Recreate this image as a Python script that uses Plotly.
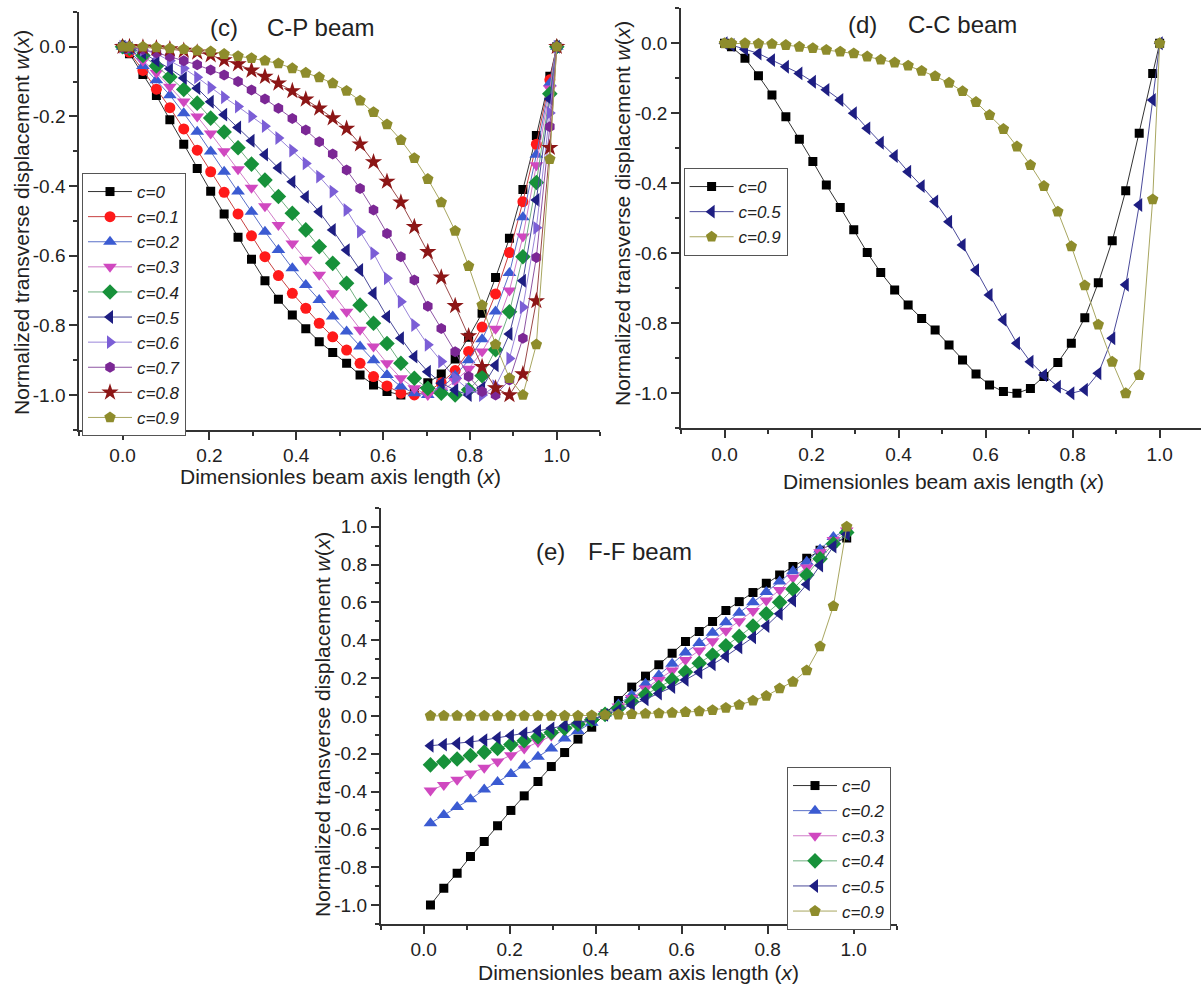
import plotly.graph_objects as go

# ---------------- data ----------------
x_cp = [0, 0.016, 0.047, 0.078, 0.109, 0.141, 0.172, 0.203, 0.234, 0.266, 0.297, 0.328,
        0.359, 0.391, 0.422, 0.453, 0.484, 0.516, 0.547, 0.578, 0.609, 0.641, 0.672, 0.703,
        0.734, 0.766, 0.797, 0.828, 0.859, 0.891, 0.922, 0.953, 0.984, 1.0]

cp_c0 = [0, -0.02, -0.08, -0.14, -0.21, -0.28, -0.35, -0.415, -0.48, -0.547, -0.61, -0.672,
         -0.725, -0.77, -0.81, -0.847, -0.878, -0.909, -0.943, -0.971, -0.99, -1.0, -0.99, -0.965,
         -0.94, -0.897, -0.834, -0.765, -0.663, -0.55, -0.41, -0.255, -0.085, 0]
cp_c1 = [0, -0.016, -0.068, -0.122, -0.175, -0.236, -0.297, -0.359, -0.418, -0.48, -0.543, -0.603,
         -0.657, -0.708, -0.751, -0.794, -0.833, -0.871, -0.909, -0.947, -0.974, -0.995, -1.0, -0.99,
         -0.965, -0.93, -0.875, -0.805, -0.71, -0.591, -0.445, -0.28, -0.095, 0]
cp_c2 = [0, -0.012, -0.055, -0.096, -0.139, -0.191, -0.244, -0.301, -0.359, -0.416, -0.474, -0.531,
         -0.584, -0.636, -0.684, -0.727, -0.775, -0.818, -0.861, -0.9, -0.943, -0.976, -0.995, -1.0,
         -0.98, -0.945, -0.9, -0.84, -0.76, -0.65, -0.49, -0.31, -0.105, 0]
cp_c3 = [0, -0.008, -0.04, -0.075, -0.115, -0.157, -0.2, -0.249, -0.3, -0.352, -0.405, -0.458,
         -0.512, -0.565, -0.612, -0.655, -0.708, -0.761, -0.813, -0.861, -0.909, -0.952, -0.981, -1.0,
         -0.99, -0.96, -0.925, -0.875, -0.81, -0.70, -0.545, -0.34, -0.12, 0]
cp_c4 = [0, -0.005, -0.025, -0.055, -0.087, -0.123, -0.162, -0.205, -0.245, -0.29, -0.337, -0.383,
         -0.43, -0.478, -0.526, -0.574, -0.622, -0.679, -0.742, -0.794, -0.852, -0.909, -0.952, -0.981,
         -0.995, -1.0, -0.985, -0.945, -0.87, -0.761, -0.603, -0.39, -0.135, 0]
cp_c5 = [0, -0.004, -0.018, -0.04, -0.063, -0.09, -0.119, -0.158, -0.195, -0.232, -0.27, -0.31,
         -0.348, -0.388, -0.431, -0.474, -0.526, -0.584, -0.641, -0.708, -0.775, -0.837, -0.89, -0.933,
         -0.966, -0.986, -1.0, -0.98, -0.915, -0.825, -0.672, -0.44, -0.15, 0]
cp_c6 = [0, -0.003, -0.009, -0.02, -0.04, -0.062, -0.088, -0.117, -0.145, -0.172, -0.2, -0.228,
         -0.262, -0.298, -0.335, -0.373, -0.416, -0.469, -0.531, -0.593, -0.665, -0.732, -0.799, -0.856,
         -0.904, -0.952, -0.985, -1.0, -0.975, -0.895, -0.748, -0.52, -0.19, 0]
cp_c7 = [0, -0.002, -0.008, -0.017, -0.028, -0.04, -0.052, -0.067, -0.081, -0.1, -0.124, -0.15,
         -0.177, -0.206, -0.239, -0.273, -0.308, -0.354, -0.407, -0.469, -0.536, -0.603, -0.67, -0.745,
         -0.809, -0.876, -0.947, -0.99, -1.0, -0.957, -0.837, -0.605, -0.23, 0]
cp_c8 = [0, 0, -0.002, -0.004, -0.007, -0.011, -0.016, -0.024, -0.038, -0.05, -0.068, -0.086,
         -0.105, -0.127, -0.151, -0.177, -0.205, -0.235, -0.28, -0.331, -0.387, -0.447, -0.517, -0.589,
         -0.662, -0.744, -0.831, -0.919, -0.98, -1.0, -0.94, -0.73, -0.29, 0]
cp_c9 = [0, 0, 0, -0.002, -0.005, -0.007, -0.011, -0.014, -0.021, -0.027, -0.033, -0.04,
         -0.048, -0.062, -0.075, -0.088, -0.105, -0.127, -0.155, -0.188, -0.223, -0.268, -0.32, -0.38,
         -0.447, -0.529, -0.63, -0.742, -0.855, -0.952, -1.0, -0.855, -0.323, 0]

x_cc = x_cp
cc_c0 = [0, -0.01, -0.043, -0.093, -0.148, -0.21, -0.274, -0.338, -0.405, -0.469, -0.533, -0.598,
         -0.655, -0.705, -0.748, -0.786, -0.819, -0.862, -0.905, -0.945, -0.976, -0.995, -1.0, -0.986,
         -0.952, -0.912, -0.857, -0.784, -0.684, -0.564, -0.421, -0.257, -0.086, 0]
cc_c5 = [0, -0.005, -0.017, -0.029, -0.048, -0.067, -0.086, -0.11, -0.133, -0.162, -0.2, -0.243,
         -0.284, -0.322, -0.367, -0.408, -0.452, -0.51, -0.576, -0.648, -0.719, -0.79, -0.857, -0.91,
         -0.948, -0.981, -1.0, -0.99, -0.943, -0.843, -0.69, -0.462, -0.162, 0]
cc_c9 = [0, 0, 0, -0.001, -0.002, -0.005, -0.01, -0.014, -0.019, -0.024, -0.029, -0.038,
         -0.047, -0.055, -0.064, -0.079, -0.094, -0.113, -0.137, -0.168, -0.205, -0.245, -0.295, -0.348,
         -0.408, -0.481, -0.58, -0.692, -0.804, -0.91, -1.0, -0.948, -0.446, 0]

x_ff = [0.016, 0.047, 0.078, 0.109, 0.141, 0.172, 0.203, 0.234, 0.266, 0.297, 0.328, 0.359,
        0.391, 0.422, 0.453, 0.484, 0.516, 0.547, 0.578, 0.609, 0.641, 0.672, 0.703, 0.734,
        0.766, 0.797, 0.828, 0.859, 0.891, 0.922, 0.953, 0.984]
ff_c0 = [-1.0, -0.911, -0.832, -0.744, -0.664, -0.581, -0.5, -0.423, -0.347, -0.268, -0.194, -0.123,
         -0.06, 0.01, 0.081, 0.152, 0.21, 0.27, 0.331, 0.393, 0.446, 0.499, 0.557, 0.604,
         0.652, 0.701, 0.745, 0.789, 0.833, 0.875, 0.915, 0.94]
ff_c2 = [-0.568, -0.524, -0.482, -0.441, -0.39, -0.35, -0.308, -0.262, -0.216, -0.172, -0.12, -0.08,
         -0.037, 0.012, 0.06, 0.11, 0.17, 0.215, 0.275, 0.335, 0.385, 0.44, 0.495, 0.545,
         0.6, 0.655, 0.71, 0.765, 0.815, 0.88, 0.945, 0.985]
ff_c3 = [-0.395, -0.366, -0.338, -0.305, -0.274, -0.242, -0.208, -0.172, -0.138, -0.105, -0.075, -0.048,
         -0.022, 0.01, 0.05, 0.095, 0.145, 0.19, 0.24, 0.295, 0.345, 0.395, 0.45, 0.5,
         0.555, 0.61, 0.665, 0.73, 0.785, 0.865, 0.93, 0.98]
ff_c4 = [-0.259, -0.243, -0.228, -0.21, -0.192, -0.172, -0.152, -0.132, -0.11, -0.088, -0.066, -0.044,
         -0.02, 0.008, 0.04, 0.075, 0.112, 0.15, 0.19, 0.232, 0.278, 0.322, 0.37, 0.42,
         0.475, 0.54, 0.6, 0.67, 0.745, 0.83, 0.91, 0.97]
ff_c5 = [-0.158, -0.152, -0.146, -0.138, -0.128, -0.117, -0.105, -0.093, -0.08, -0.066, -0.052, -0.037,
         -0.02, 0.005, 0.03, 0.058, 0.087, 0.118, 0.152, 0.19, 0.23, 0.272, 0.315, 0.362,
         0.415, 0.475, 0.54, 0.61, 0.695, 0.795, 0.895, 0.96]
ff_c9 = [0, 0, 0, 0, 0, 0, 0, 0, 0, 0, 0, 0,
         0.002, 0.005, 0.007, 0.009, 0.011, 0.013, 0.016, 0.02, 0.024, 0.03, 0.042, 0.058,
         0.08, 0.105, 0.145, 0.18, 0.24, 0.367, 0.58, 1.0]

x_tick_vals = [0.0, 0.2, 0.4, 0.6, 0.8, 1.0]
x_tick_text = ["0.0", "0.2", "0.4", "0.6", "0.8", "1.0"]
yneg_tick_vals = [0.0, -0.2, -0.4, -0.6, -0.8, -1.0]
yneg_tick_text = ["0.0", "-0.2", "-0.4", "-0.6", "-0.8", "-1.0"]
yff_tick_vals = [-1.0, -0.8, -0.6, -0.4, -0.2, 0.0, 0.2, 0.4, 0.6, 0.8, 1.0]
yff_tick_text = ["-1.0", "-0.8", "-0.6", "-0.4", "-0.2", "0.0", "0.2", "0.4", "0.6", "0.8", "1.0"]

# ---------------- styles ----------------
STYLE = {
    "c=0":   ("#000000", "#333333", "square", 9),
    "c=0.1": ("#FF1A1A", "#C84040", "circle", 11),
    "c=0.2": ("#3B5BD2", "#5A70C8", "triangle-up", 12),
    "c=0.3": ("#D048C0", "#D07CC8", "triangle-down", 12),
    "c=0.4": ("#17913A", "#70B080", "diamond", 12),
    "c=0.5": ("#1E1E82", "#4A4A9A", "triangle-left", 12),
    "c=0.6": ("#7B5ED6", "#9A86DA", "triangle-right", 12),
    "c=0.7": ("#7B2795", "#8E55A4", "hexagon", 11),
    "c=0.8": ("#8C1616", "#9A4848", "star", 13),
    "c=0.9": ("#8E8C2C", "#A8A660", "pentagon", 12),
}
FONT = "Liberation Sans, Arial, sans-serif"
W, H = 1201, 992

fig = go.Figure()


def add(x, y, name, xa, ya, leg):
    mc, lc, sym, sz = STYLE[name]
    fig.add_trace(go.Scatter(
        x=x, y=y, mode="lines+markers", name="<i>" + name + "</i>",
        line=dict(color=lc, width=1),
        marker=dict(symbol=sym, size=sz, color=mc, line=dict(width=0)),
        xaxis=xa, yaxis=ya, legend=leg))


cp = [("c=0", cp_c0), ("c=0.1", cp_c1), ("c=0.2", cp_c2), ("c=0.3", cp_c3), ("c=0.4", cp_c4),
      ("c=0.5", cp_c5), ("c=0.6", cp_c6), ("c=0.7", cp_c7), ("c=0.8", cp_c8), ("c=0.9", cp_c9)]
for n, y in cp:
    add(x_cp, y, n, "x", "y", "legend")
for n, y in [("c=0", cc_c0), ("c=0.5", cc_c5), ("c=0.9", cc_c9)]:
    add(x_cc, y, n, "x2", "y2", "legend2")
for n, y in [("c=0", ff_c0), ("c=0.2", ff_c2), ("c=0.3", ff_c3), ("c=0.4", ff_c4),
             ("c=0.5", ff_c5), ("c=0.9", ff_c9)]:
    add(x_ff, y, n, "x3", "y3", "legend3")


def px(X):
    return X / W


def py(Y):
    return 1 - Y / H


axis_common = dict(
    showline=True, linecolor="#333333", linewidth=1.5, mirror=False,
    ticks="outside", ticklen=8, tickwidth=1.5, tickcolor="#333333",
    showgrid=False, zeroline=False, tickmode="array",
    tickfont=dict(family=FONT, size=19, color="#222222"),
    minor=dict(ticks="outside", ticklen=4, tickwidth=1.5, tickcolor="#333333",
               tickmode="linear", tick0=0, dtick=0.1, showgrid=False),
)

fig.update_layout(
    width=W, height=H, margin=dict(l=0, r=0, t=0, b=0),
    paper_bgcolor="white", plot_bgcolor="white",
    font=dict(family=FONT, color="#222222"),
    xaxis=dict(axis_common, domain=[px(79.1), px(600.2)], range=[-0.1, 1.1], anchor="y",
               tickvals=x_tick_vals, ticktext=x_tick_text),
    yaxis=dict(axis_common, domain=[py(429.8), py(11.9)], range=[-1.1, 0.1], anchor="x",
               tickvals=yneg_tick_vals, ticktext=yneg_tick_text),
    xaxis2=dict(axis_common, domain=[px(681), 1.0], range=[-0.1, 1.095], anchor="y2",
                tickvals=x_tick_vals, ticktext=x_tick_text),
    yaxis2=dict(axis_common, domain=[py(428.3), py(8.3)], range=[-1.1, 0.1], anchor="x2",
                tickvals=yneg_tick_vals, ticktext=yneg_tick_text),
    xaxis3=dict(axis_common, domain=[px(380.6), px(896.6)], range=[-0.1, 1.1], anchor="y3",
                tickvals=x_tick_vals, ticktext=x_tick_text),
    yaxis3=dict(axis_common, domain=[py(923.9), py(507.8)], range=[-1.1, 1.1], anchor="x3",
                tickvals=yff_tick_vals, ticktext=yff_tick_text),
)

leg_common = dict(bgcolor="white", bordercolor="#555555", borderwidth=1,
                  font=dict(family=FONT, size=17, color="#222222"),
                  xanchor="left", yanchor="top", tracegroupgap=0, itemsizing="trace",
                  itemwidth=44)
fig.update_layout(
    legend=dict(leg_common, x=px(82), y=py(173)),
    legend2=dict(leg_common, x=px(683.6), y=py(168)),
    legend3=dict(leg_common, x=px(787), y=py(767)),
)

ytitle = "Normalized transverse displacement <i>w</i>(<i>x</i>)"
xtitle = "Dimensionles beam axis length (<i>x</i>)"
ann = [
    (21, 223, ytitle, -90, 21), (623, 214, ytitle, -90, 21), (322, 724, ytitle, -90, 21),
    (340, 476, xtitle, 0, 21), (943, 481, xtitle, 0, 21), (639, 972, xtitle, 0, 21),
    (224, 27, "(c)", 0, 24), (321, 27, "C-P beam", 0, 24),
    (862, 25, "(d)", 0, 24), (962, 25, "C-C beam", 0, 24),
    (550, 551, "(e)", 0, 24), (640, 551, "F-F beam", 0, 24),
]
for X, Y, t, ang, fs in ann:
    fig.add_annotation(x=px(X), y=py(Y), xref="paper", yref="paper", text=t, textangle=ang,
                       showarrow=False, xanchor="center", yanchor="middle",
                       font=dict(family=FONT, size=fs, color="#222222"))

fig.write_html("out.html", config={"displayModeBar": False},
               post_script="document.body.style.margin='0';")
